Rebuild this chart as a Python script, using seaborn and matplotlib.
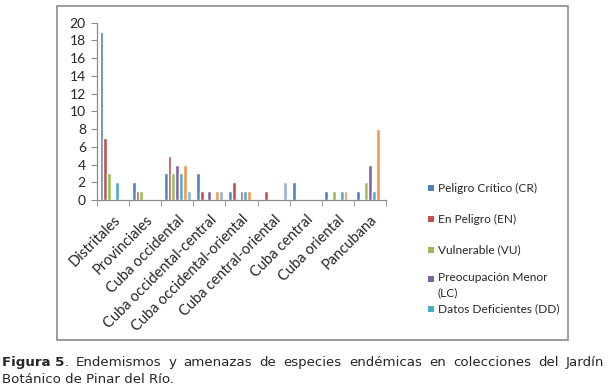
import matplotlib
matplotlib.use("Agg")
import matplotlib.pyplot as plt
from matplotlib.patches import Rectangle
import seaborn as sns
import pandas as pd

# categories along x
categorias = ["Distritales", "Provinciales", "Cuba occidental", "Cuba occidental-central",
              "Cuba occidental-oriental", "Cuba central-oriental", "Cuba central",
              "Cuba oriental", "Pancubana"]

# one list per series
cr = [19, 2, 3, 3, 1, 0, 2, 1, 1]
en = [7, 1, 5, 1, 2, 1, 0, 0, 0]
vu = [3, 1, 3, 0, 0, 0, 0, 1, 2]
lc = [0, 0, 4, 1, 1, 0, 0, 0, 4]
dd = [2, 0, 3, 0, 1, 0, 0, 1, 1]
serie6 = [0, 0, 4, 1, 1, 0, 0, 1, 8]
serie7 = [0, 0, 1, 1, 0, 2, 0, 0, 0]

series = ["Peligro Crítico (CR)", "En Peligro (EN)", "Vulnerable (VU)",
          "Preocupación Menor\n(LC)", "Datos Deficientes (DD)", "Serie 6", "Serie 7"]
colores = ["#4F81BD", "#C0504D", "#9BBB59", "#8064A2", "#4BACC6", "#F79646", "#95B3D7"]

rows = []
for nombre, vals in zip(series, [cr, en, vu, lc, dd, serie6, serie7]):
    for cat, v in zip(categorias, vals):
        rows.append({"categoria": cat, "serie": nombre, "valor": v})
df = pd.DataFrame(rows)

sns.set_style("white")
plt.rcParams["font.family"] = ["Lato", "DejaVu Sans"]

W, H = 608, 391
fig = plt.figure(figsize=(W / 100, H / 100), dpi=100)

# outer chart border
fig.patches.append(Rectangle((57 / W, 1 - 340 / H), (568 - 57) / W, (340 - 6) / H,
                             transform=fig.transFigure, fill=False,
                             edgecolor="#8c8c8c", linewidth=1.2))

ax = fig.add_axes([97 / W, 1 - 200 / H, (386 - 97) / W, (200 - 22.7) / H])
sns.barplot(data=df, x="categoria", y="valor", hue="serie", hue_order=series,
            order=categorias, palette=colores, width=0.84, saturation=1,
            ax=ax, legend=False)

ax.set_xlim(-0.5, len(categorias) - 0.5)
ax.set_ylim(0, 20)
ax.set_yticks(range(0, 21, 2))
ax.set_xlabel("")
ax.set_ylabel("")
for s in ["top", "right"]:
    ax.spines[s].set_visible(False)
for s in ["left", "bottom"]:
    ax.spines[s].set_color("#8c8c8c")
    ax.spines[s].set_linewidth(0.9)

ax.tick_params(axis="y", which="major", left=True, length=4, color="#8c8c8c",
               labelsize=10, pad=4)
ax.set_xticks(range(len(categorias)))
ax.set_xticklabels(categorias, rotation=45, ha="right", rotation_mode="anchor",
                   fontsize=10.5)
ax.tick_params(axis="x", which="major", length=0, pad=9)
ax.set_xticks([i - 0.5 for i in range(len(categorias) + 1)], minor=True)
ax.tick_params(axis="x", which="minor", bottom=True, length=4, color="#8c8c8c")

# legend drawn by hand, only the first five series like the original
leg_y = [188, 219, 250, 279, 309]
for c, nombre, y in zip(colores[:5], series[:5], leg_y):
    fig.patches.append(Rectangle((428 / W, 1 - (y + 3) / H), 6 / W, 6 / H,
                                 transform=fig.transFigure, facecolor=c,
                                 edgecolor="none"))
    # two-line label hangs down from its first line
    va = "top" if "\n" in nombre else "center"
    yy = y - 7 if "\n" in nombre else y
    fig.text(438 / W, 1 - yy / H, nombre, fontsize=8.6, va=va, ha="left",
             linespacing=1.45)

# caption, first line justified to the full width
fig.canvas.draw()
renderer = fig.canvas.get_renderer()
resto = "Endemismos y amenazas de especies endémicas en colecciones del Jardín".split()
x0, x1 = 2, 604
y1 = 1 - 366 / H
cap_kw = dict(fontsize=9.6, family="DejaVu Sans", va="baseline", ha="left")

t = fig.text(x0 / W, y1, "Figura 5", fontweight="bold", **cap_kw)
w_bold = t.get_window_extent(renderer).width
t2 = fig.text((x0 + w_bold) / W, y1, ".", **cap_kw)
w_dot = t2.get_window_extent(renderer).width
widths = []
tmp = []
for p in resto:
    tt = fig.text(0, 0, p, **cap_kw)
    widths.append(tt.get_window_extent(renderer).width)
    tmp.append(tt)
start = x0 + w_bold + w_dot
gap = (x1 - start - sum(widths)) / len(resto)
x = start + gap
for tt, w in zip(tmp, widths):
    tt.set_position((x / W, y1))
    x += w + gap

fig.text(x0 / W, 1 - 383 / H, "Botánico de Pinar del Río.", **cap_kw)

fig.savefig("out.png", dpi=100)
